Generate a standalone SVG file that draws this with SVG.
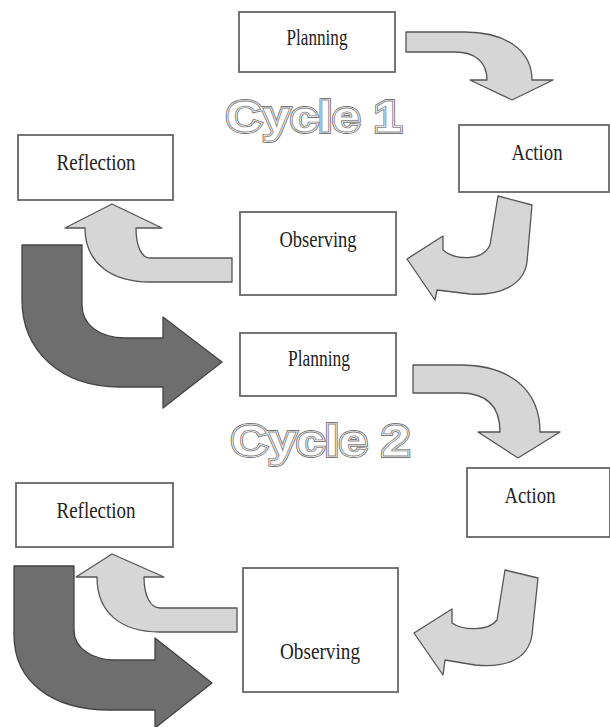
<svg xmlns="http://www.w3.org/2000/svg" width="610" height="727" viewBox="0 0 610 727">
<style>
.box{fill:#fff;stroke:#666;stroke-width:1.8}
.lbl{font-family:"Liberation Serif",serif;font-size:24px;fill:#222;text-anchor:middle}
.light{fill:#d6d6d6;stroke:#555;stroke-width:1.3;stroke-linejoin:round}
.dark{fill:#6e6e6e;stroke:#444;stroke-width:1.3;stroke-linejoin:round}
.cyc{font-family:"Liberation Sans",Arial,sans-serif;font-weight:bold;font-size:44px}
.c1{fill:#fff;stroke:#777;stroke-width:4}
.c2{fill:#fff;stroke:#fff;stroke-width:2.2}
.c3{fill:#fff;stroke:#888;stroke-width:0.8}
</style>
<rect width="610" height="727" fill="#fff"/>
<g id="connectors">
<path class="light" d="M406,32 L465,32 C505,32 532,50 532,80 L553,80 L512,100 L470,80 L487,80 C487,62 475,52 455,52 L406,52 Z"/>
<path class="light" d="M498,196 L532,205 L527,262 C524,285 500,296 470,294 L437,290 L435,300 L407,259 L443,236 L443,250 C455,260 482,262 490,245 Z"/>
<path class="light" d="M232,258 L150,258 C141,258 136,245 136,228 L162,228 L112,204 L65,228 L85,228 C85,262 110,282 150,282 L232,282 Z"/>
<path class="dark" d="M22,245 L82,245 L82,305 C82,325 100,338 125,338 L163,338 L163,317 L222,362 L163,408 L163,387 L120,387 C60,387 22,350 22,300 Z"/>
<path class="light" d="M413,365 L460,365 C510,365 540,390 540,432 L560,432 L518,458 L478,432 L500,432 C500,405 485,393 460,393 L413,393 Z"/>
<path class="light" d="M505,570 L538,578 L532,635 C528,660 505,668 475,665 L445,660 L443,675 L414,633 L452,609 L452,623 C462,630 488,632 497,620 Z"/>
<path class="light" d="M237,608 L160,608 C150,608 144,595 144,577 L164,577 L112,554 L76,577 L97,577 C97,612 120,632 160,632 L237,632 Z"/>
<path class="dark" d="M14,566 L74,566 L74,630 C74,650 95,660 115,660 L155,660 L155,638 L212,683 L155,728 L155,710 L110,710 C50,710 14,680 14,635 Z"/>
</g>
<g id="planning1"><rect class="box" x="239" y="12" width="156" height="60"/><text class="lbl" x="317" y="45" textLength="61" lengthAdjust="spacingAndGlyphs">Planning</text></g>
<g id="cycle1"><g class="cyc">
<text class="c1" x="226" y="132" textLength="176" lengthAdjust="spacingAndGlyphs">Cycle 1</text>
<text class="c2" x="226" y="132" textLength="176" lengthAdjust="spacingAndGlyphs">Cycle 1</text>
<text class="c3" x="226" y="132" textLength="176" lengthAdjust="spacingAndGlyphs">Cycle 1</text></g></g>
<g id="action1"><rect class="box" x="459" y="125" width="150" height="67"/><text class="lbl" x="537" y="160" textLength="51" lengthAdjust="spacingAndGlyphs">Action</text></g>
<g id="reflection1"><rect class="box" x="18" y="135" width="155" height="65"/><text class="lbl" x="96" y="170" textLength="79" lengthAdjust="spacingAndGlyphs">Reflection</text></g>
<g id="observing1"><rect class="box" x="240" y="212" width="156" height="83"/><text class="lbl" x="318" y="247" textLength="77" lengthAdjust="spacingAndGlyphs">Observing</text></g>
<g id="planning2"><rect class="box" x="240" y="333" width="156" height="63"/><text class="lbl" x="319" y="366" textLength="62" lengthAdjust="spacingAndGlyphs">Planning</text></g>
<g id="cycle2"><g class="cyc">
<text class="c1" x="231" y="456" textLength="179" lengthAdjust="spacingAndGlyphs">Cycle 2</text>
<text class="c2" x="231" y="456" textLength="179" lengthAdjust="spacingAndGlyphs">Cycle 2</text>
<text class="c3" x="231" y="456" textLength="179" lengthAdjust="spacingAndGlyphs">Cycle 2</text></g></g>
<g id="action2"><rect class="box" x="467" y="468" width="143" height="69"/><text class="lbl" x="530" y="503" textLength="51" lengthAdjust="spacingAndGlyphs">Action</text></g>
<g id="reflection2"><rect class="box" x="16" y="483" width="157" height="64"/><text class="lbl" x="96" y="518" textLength="79" lengthAdjust="spacingAndGlyphs">Reflection</text></g>
<g id="observing2"><rect class="box" x="243" y="568" width="155" height="124"/><text class="lbl" x="320" y="659" textLength="80" lengthAdjust="spacingAndGlyphs">Observing</text></g>
</svg>
